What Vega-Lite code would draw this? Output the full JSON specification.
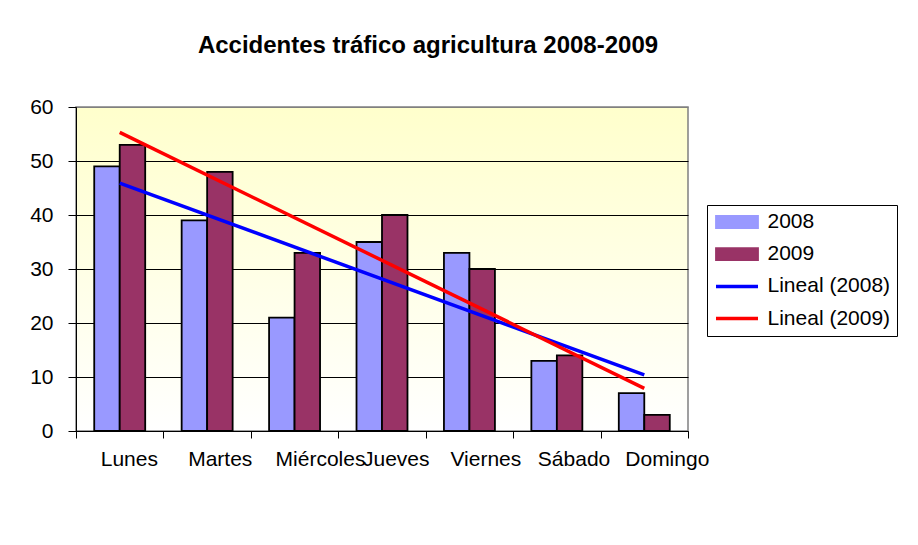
{
  "$schema": "https://vega.github.io/schema/vega-lite/v6.json",
  "width": 612,
  "height": 324,
  "autosize": "none",
  "padding": {"left": 76, "top": 107, "right": 230, "bottom": 114},
  "background": "#ffffff",
  "config": {
    "view": {
      "stroke": "#808080",
      "strokeWidth": 1.5,
      "fill": {"gradient": "linear", "x1": 0, "y1": 0, "x2": 0, "y2": 1, "stops": [{"offset": 0, "color": "#FFFFCC"}, {"offset": 1, "color": "#FFFFFF"}]}
    },
    "legend": {
      "title": null,
      "orient": "none",
      "legendX": 631,
      "legendY": 98,
      "direction": "vertical",
      "symbolSize": 400,
      "labelFont": "Liberation Sans",
      "labelFontSize": 21,
      "labelColor": "#000000",
      "labelOffset": 33,
      "labelLimit": 300,
      "rowPadding": 10.2,
      "padding": 6.5,
      "strokeColor": "#000000",
      "fillColor": "#ffffff",
      "symbolOpacity": 1
    }
  },
  "title": {
    "text": "Accidentes tráfico agricultura 2008-2009",
    "font": "Liberation Sans",
    "fontSize": 24,
    "fontWeight": "bold",
    "color": "#000000",
    "anchor": "middle",
    "frame": "group",
    "baseline": "alphabetic",
    "dx": 46,
    "offset": 19
  },
  "datasets": {
    "barras": [
      {"dia": "Lunes", "serie": "2008", "valor": 49},
      {"dia": "Lunes", "serie": "2009", "valor": 53},
      {"dia": "Martes", "serie": "2008", "valor": 39},
      {"dia": "Martes", "serie": "2009", "valor": 48},
      {"dia": "Miércoles", "serie": "2008", "valor": 21},
      {"dia": "Miércoles", "serie": "2009", "valor": 33},
      {"dia": "Jueves", "serie": "2008", "valor": 35},
      {"dia": "Jueves", "serie": "2009", "valor": 40},
      {"dia": "Viernes", "serie": "2008", "valor": 33},
      {"dia": "Viernes", "serie": "2009", "valor": 30},
      {"dia": "Sábado", "serie": "2008", "valor": 13},
      {"dia": "Sábado", "serie": "2009", "valor": 14},
      {"dia": "Domingo", "serie": "2008", "valor": 7},
      {"dia": "Domingo", "serie": "2009", "valor": 3}
    ],
    "tendencia": [
      {"dia": "Lunes", "serie": "Lineal (2008)", "valor": 45.9},
      {"dia": "Domingo", "serie": "Lineal (2008)", "valor": 10.4},
      {"dia": "Lunes", "serie": "Lineal (2009)", "valor": 55.3},
      {"dia": "Domingo", "serie": "Lineal (2009)", "valor": 7.9}
    ]
  },
  "layer": [
    {
      "data": {"name": "barras"},
      "mark": {"type": "bar", "stroke": "#000000", "strokeWidth": 1.8},
      "encoding": {
        "x": {
          "field": "dia",
          "type": "nominal",
          "scale": {"domain": ["Lunes", "Martes", "Miércoles", "Jueves", "Viernes", "Sábado", "Domingo"], "paddingInner": 0, "paddingOuter": 0},
          "axis": {
            "title": null,
            "tickBand": "extent",
            "tickSize": 7,
            "tickColor": "#000000",
            "domainColor": "#000000",
            "labelAlign": "left",
            "labelOffset": -19.5,
            "labelPadding": 10,
            "labelAngle": 0,
            "labelFont": "Liberation Sans",
            "labelFontSize": 21,
            "labelColor": "#000000",
            "labelLimit": 300,
            "labelOverlap": false,
            "grid": false
          }
        },
        "xOffset": {
          "field": "serie",
          "type": "nominal",
          "scale": {"domain": ["2008", "2009"], "paddingOuter": 0.715, "paddingInner": 0}
        },
        "y": {
          "field": "valor",
          "type": "quantitative",
          "scale": {"domain": [0, 60]},
          "axis": {
            "title": null,
            "values": [0, 10, 20, 30, 40, 50, 60],
            "grid": true,
            "gridColor": {"condition": {"test": "datum.value == 60", "value": "#808080"}, "value": "#000000"},
            "gridWidth": 1,
            "domainColor": "#000000",
            "tickColor": "#000000",
            "tickSize": 8,
            "labelPadding": 15,
            "labelFont": "Liberation Sans",
            "labelFontSize": 21,
            "labelColor": "#000000"
          }
        },
        "color": {
          "field": "serie",
          "type": "nominal",
          "scale": {
            "domain": ["2008", "2009", "Lineal (2008)", "Lineal (2009)"],
            "range": ["#9999FF", "#993366", "#0000FF", "#FF0000"]
          },
          "legend": {
            "encode": {
              "symbols": {
                "update": {
                  "shape": {"signal": "datum.value == '2008' || datum.value == '2009' ? 'M-0.8,-0.6H3.4V0.6H-0.8Z' : 'M-0.8,0H3.4'"},
                  "fill": {"signal": "datum.value == '2008' ? '#9999FF' : datum.value == '2009' ? '#993366' : 'transparent'"},
                  "stroke": {"signal": "datum.value == '2008' || datum.value == '2009' ? '#000000' : datum.value == 'Lineal (2008)' ? '#0000FF' : '#FF0000'"},
                  "strokeWidth": {"signal": "datum.value == '2008' || datum.value == '2009' ? 1.8 : 3.5"}
                }
              }
            }
          }
        }
      }
    },
    {
      "data": {"name": "tendencia"},
      "mark": {"type": "line", "strokeWidth": 3.5},
      "encoding": {
        "x": {"field": "dia", "type": "nominal"},
        "y": {"field": "valor", "type": "quantitative"},
        "color": {
          "field": "serie",
          "type": "nominal",
          "legend": {
            "encode": {
              "symbols": {
                "update": {
                  "shape": {"signal": "datum.value == '2008' || datum.value == '2009' ? 'M-0.8,-0.6H3.4V0.6H-0.8Z' : 'M-0.8,0H3.4'"},
                  "fill": {"signal": "datum.value == '2008' ? '#9999FF' : datum.value == '2009' ? '#993366' : 'transparent'"},
                  "stroke": {"signal": "datum.value == '2008' || datum.value == '2009' ? '#000000' : datum.value == 'Lineal (2008)' ? '#0000FF' : '#FF0000'"},
                  "strokeWidth": {"signal": "datum.value == '2008' || datum.value == '2009' ? 1.8 : 3.5"}
                }
              }
            }
          }
        }
      }
    }
  ]
}
